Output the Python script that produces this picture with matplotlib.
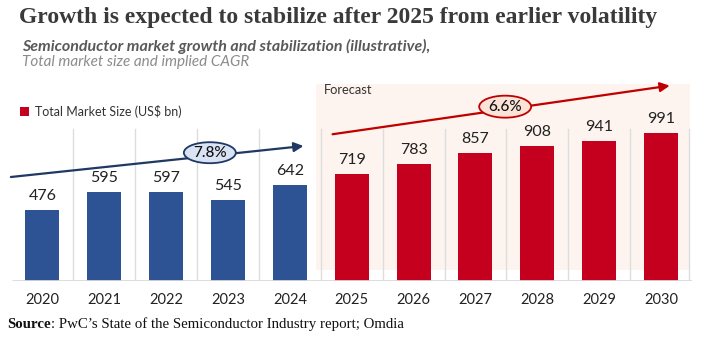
import matplotlib
matplotlib.use("Agg")
import matplotlib.pyplot as plt
from matplotlib.patches import Ellipse, Rectangle

years = ["2020", "2021", "2022", "2023", "2024", "2025", "2026", "2027", "2028", "2029", "2030"]
values = [476, 595, 597, 545, 642, 719, 783, 857, 908, 941, 991]
n_hist = 5
cagr_hist = "7.8%"
cagr_fore = "6.6%"

BLUE = "#2E5395"
RED = "#C5001F"
NAVY = "#1F3864"
DRED = "#C00000"

W, H = 710, 345
fig = plt.figure(figsize=(W / 100, H / 100), dpi=100)
ax = fig.add_axes([11.5 / W, (H - 281) / H, (692 - 11.5) / W, 208.6 / H])
ax.set_xlim(-0.5, 10.5)
ax.set_ylim(0, 1400)
ax.axis("off")

x = list(range(len(years)))

# Forecast background
ax.add_patch(Rectangle((4.42, 74), 10.46 - 4.42, 1322 - 74, facecolor="#FDF4EF",
                       edgecolor="none", zorder=0))
ax.text(4.55, 1285, "Forecast", fontsize=9.3, family="Lato", color="#333333",
        va="center", ha="left", zorder=5)

# vertical grid lines
for gx in [i + 0.5 for i in range(10)] + [10.45]:
    ax.plot([gx, gx], [0, 1020], color="#DDDDDD", lw=1.0, zorder=1)

colors = [BLUE if i < n_hist else RED for i in range(len(years))]
ax.bar(x, values, width=0.55, color=colors, zorder=2)
ax.plot([-0.5, 10.5], [0, 0], color="#D9D9D9", lw=2, zorder=3, solid_capstyle="butt")

for xi, v in zip(x, values):
    ax.text(xi, v + 95, f"{v}", ha="center", va="center", fontsize=11.5,
            family="Lato", color="#222222", zorder=5)

for xi, y in zip(x, years):
    ax.text(xi, -130, y, ha="center", va="center", fontsize=10.5,
            family="Lato", color="#222222", clip_on=False)

# CAGR arrows
ax.annotate("", xy=(4.22, 906), xytext=(-0.51, 698),
            arrowprops=dict(arrowstyle="-|>", color=NAVY, lw=1.6, mutation_scale=14,
                            shrinkA=0, shrinkB=0), zorder=4)
ax.annotate("", xy=(10.14, 1311), xytext=(4.69, 985),
            arrowprops=dict(arrowstyle="-|>", color=DRED, lw=1.6, mutation_scale=14,
                            shrinkA=0, shrinkB=0), zorder=4)

ax.add_patch(Ellipse((2.706, 861), 52 / 61.9, 21 / 0.149, facecolor="#DAE3F3",
                     edgecolor=NAVY, lw=1.3, zorder=6))
ax.text(2.706, 861, cagr_hist, ha="center", va="center", fontsize=11,
        family="Lato", fontweight="medium", color="#111111", zorder=7)
ax.add_patch(Ellipse((7.48, 1170), 52 / 61.9, 22 / 0.149, facecolor="#FBE3D8",
                     edgecolor=DRED, lw=1.3, zorder=6))
ax.text(7.48, 1170, cagr_fore, ha="center", va="center", fontsize=11,
        family="Lato", fontweight="medium", color="#111111", zorder=7)

# legend
fig.patches.append(Rectangle((20 / W, (H - 116) / H), 9 / W, 9 / H, transform=fig.transFigure,
                             facecolor=RED, edgecolor="none"))
fig.text(35 / W, (H - 111.5) / H, "Total Market Size (US$ bn)", fontsize=9, family="Lato",
         color="#333333", va="center", ha="left")

# titles
fig.text(19 / W, (H - 18) / H, "Growth is expected to stabilize after 2025 from earlier volatility",
         fontsize=17, family="Liberation Serif", fontweight="bold", color="#3A3A3A",
         va="center", ha="left")
fig.text(22 / W, (H - 46) / H, "Semiconductor market growth and stabilization (illustrative),",
         fontsize=11.5, family="Lato", fontweight="bold", style="italic", color="#595959",
         va="center", ha="left")
fig.text(22 / W, (H - 62) / H, "Total market size and implied CAGR",
         fontsize=11, family="Lato", style="italic", color="#8C8C8C",
         va="center", ha="left")

# source
t = fig.text(7 / W, (H - 324) / H, "Source", fontsize=10.7, family="Liberation Serif",
             fontweight="bold", color="#111111", va="center", ha="left")
fig.canvas.draw()
bb = t.get_window_extent()
fig.text(bb.x1 / W, (H - 324) / H, ": PwC\u2019s State of the Semiconductor Industry report; Omdia",
         fontsize=10.7, family="Liberation Serif", color="#111111", va="center", ha="left")

fig.savefig("out.png", dpi=100)
